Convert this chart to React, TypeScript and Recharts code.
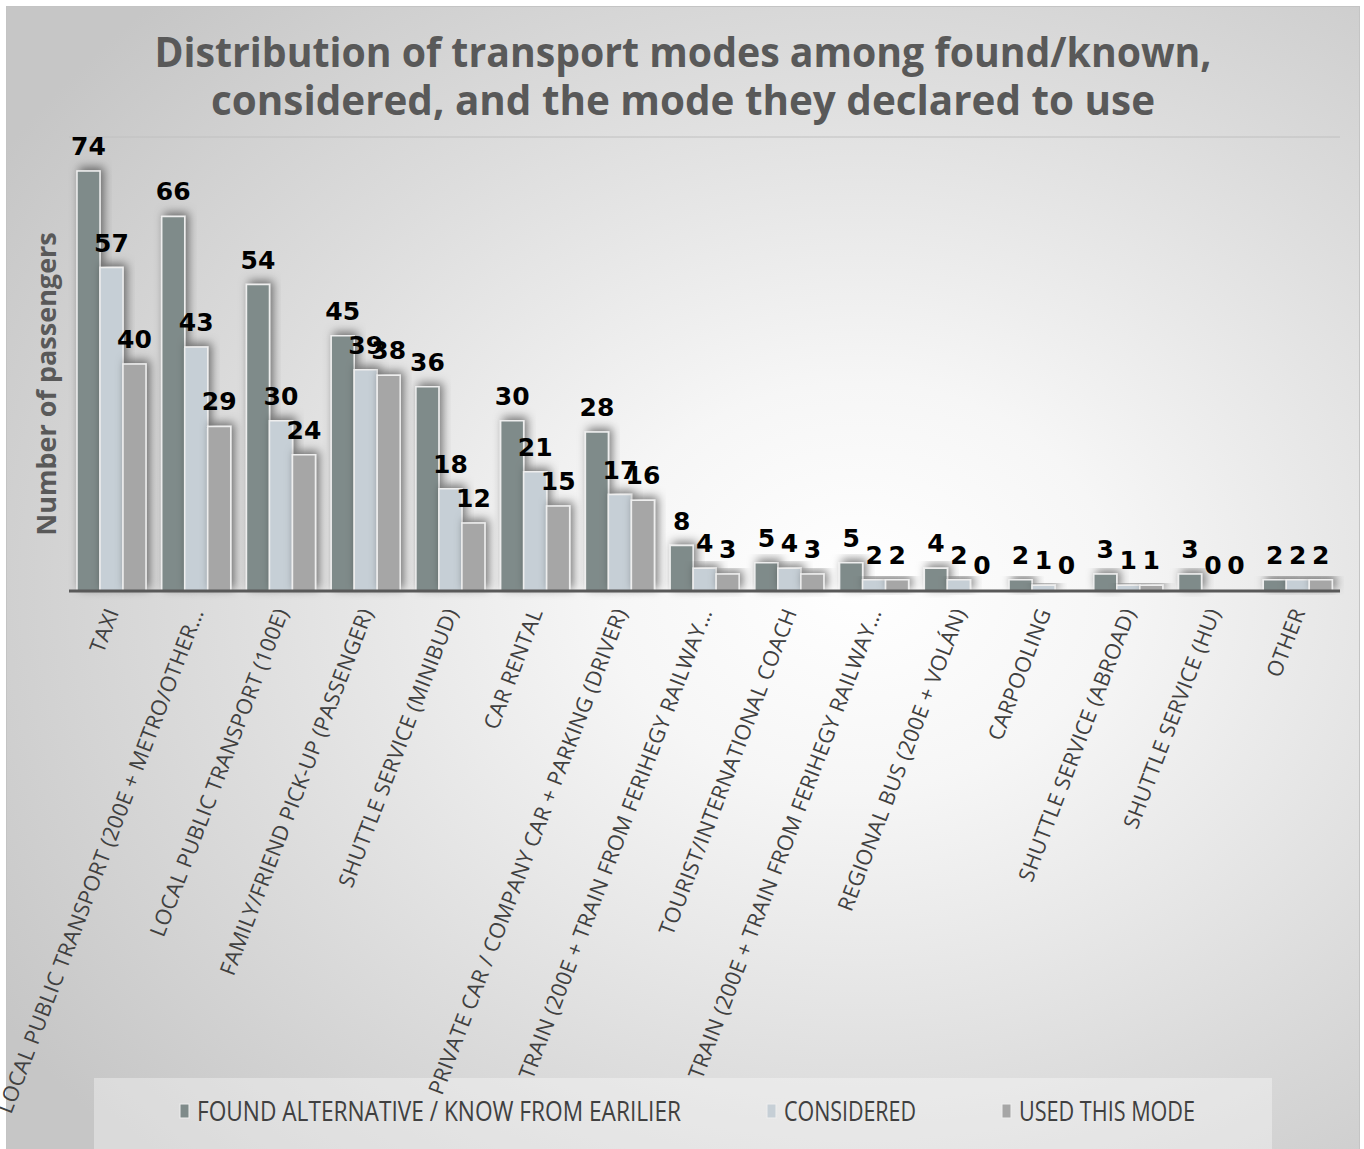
import React from "react";
import {
  BarChart,
  Bar,
  XAxis,
  YAxis,
  CartesianGrid,
  LabelList,
  Rectangle,
} from "recharts";

const modes = [
  "TAXI",
  "LOCAL PUBLIC TRANSPORT (200E + METRO/OTHER…",
  "LOCAL PUBLIC TRANSPORT (100E)",
  "FAMILY/FRIEND PICK-UP (PASSENGER)",
  "SHUTTLE SERVICE (MINIBUD)",
  "CAR RENTAL",
  "PRIVATE CAR / COMPANY CAR + PARKING (DRIVER)",
  "TRAIN (200E + TRAIN FROM FERIHEGY RAILWAY…",
  "TOURIST/INTERNATIONAL COACH",
  "TRAIN (200E + TRAIN FROM FERIHEGY RAILWAY…",
  "REGIONAL BUS (200E + VOLÁN)",
  "CARPOOLING",
  "SHUTTLE SERVICE (ABROAD)",
  "SHUTTLE SERVICE (HU)",
  "OTHER",
];

const foundAlternative = [74, 66, 54, 45, 36, 30, 28, 8, 5, 5, 4, 2, 3, 3, 2];
const considered = [57, 43, 30, 39, 18, 21, 17, 4, 4, 2, 2, 1, 1, 0, 2];
const usedThisMode = [40, 29, 24, 38, 12, 15, 16, 3, 3, 2, 0, 0, 1, 0, 2];

const yTicks = [0, 10, 20, 30, 40, 50, 60, 70, 80];

const series = [
  { key: "found", name: "FOUND ALTERNATIVE / KNOW FROM EARILIER", color: "#7f8b8a" },
  { key: "considered", name: "CONSIDERED", color: "#c6cfd6" },
  { key: "used", name: "USED THIS MODE", color: "#a6a6a6" },
];

const data = modes.map((mode, i) => ({
  mode,
  found: foundAlternative[i],
  considered: considered[i],
  used: usedThisMode[i],
}));

const W = 1364;
const H = 1149;

const ModeTick = (props: any) => {
  const { x, y, payload } = props;
  return (
    <text
      transform={`translate(${x + 8},${y + 13}) rotate(-69)`}
      textAnchor="end"
      fontFamily="'Open Sans', sans-serif"
      fontSize={21.5}
      letterSpacing={0.35}
      fill="#404040"
    >
      {payload.value}
    </text>
  );
};

// zero values keep a label but draw no visible bar
const makeShape = (key: string) => (props: any) =>
  props.payload && props.payload[key] === 0 ? <g /> : <Rectangle {...props} />;

const legendPos = [180, 767, 1002];
const legendWidths = [484, 132, 176];

export default function App() {
  return (
    <div style={{ position: "relative", width: W, height: H, overflow: "hidden", background: "#fff" }}>
      <style>{"body{margin:0}"}</style>
      <div
        style={{
          position: "absolute",
          left: 6,
          top: 6,
          width: 1354,
          height: 1160,
          border: "1px solid #c4c4c4",
          boxSizing: "border-box",
          background:
            "radial-gradient(ellipse 75% 70% at 63% 50%, #ffffff 0%, #f6f6f6 25%, #dcdcdc 65%, #c6c6c6 100%)",
        }}
      />
      <div
        style={{
          position: "absolute",
          left: 94,
          top: 1078,
          width: 1178,
          height: 90,
          background: "rgba(255,255,255,0.35)",
        }}
      />
      <svg style={{ position: "absolute", left: 0, top: 0 }} width={W} height={140}>
        <g fontFamily="'Open Sans', sans-serif" fontWeight={700} fontSize={41} fill="#595959" textAnchor="middle">
          <text x={683} y={67} textLength={1057} lengthAdjust="spacingAndGlyphs">
            Distribution of transport modes among found/known,
          </text>
          <text x={683} y={115} textLength={944} lengthAdjust="spacingAndGlyphs">
            considered, and the mode they declared to use
          </text>
        </g>
      </svg>
      <div
        style={{
          position: "absolute",
          left: 45,
          top: 384,
          transform: "translate(-50%,-50%) rotate(-90deg)",
          whiteSpace: "nowrap",
          fontFamily: "'Open Sans', sans-serif",
          fontWeight: 700,
          fontSize: 27,
          color: "#595959",
        }}
      >
        Number of passengers
      </div>
      <div style={{ position: "absolute", left: 0, top: 0 }}>
        <BarChart
          width={W}
          height={H}
          data={data}
          margin={{ top: 137, right: 24, bottom: 78, left: 69 }}
          barCategoryGap={8}
          barGap={0}
        >
          <defs>
            <filter id="barShadow" x="-50%" y="-30%" width="200%" height="160%">
              <feDropShadow dx={3} dy={-3} stdDeviation={5} floodColor="#000" floodOpacity={0.5} />
            </filter>
          </defs>
          <CartesianGrid vertical={false} stroke="#c0c0c0" strokeWidth={1} />
          <YAxis
            width={0}
            domain={[0, 80]}
            ticks={yTicks}
            tick={false}
            axisLine={false}
            tickLine={false}
          />
          <XAxis
            dataKey="mode"
            height={480}
            interval={0}
            tickLine={false}
            axisLine={{ stroke: "#595959", strokeWidth: 3 }}
            tick={<ModeTick />}
          />
          {series.map((s) => (
            <Bar
              key={s.key}
              dataKey={s.key}
              name={s.name}
              fill={s.color}
              stroke="#eeeeee"
              strokeWidth={1.5}
              filter="url(#barShadow)"
              minPointSize={1}
              shape={makeShape(s.key)}
              isAnimationActive={false}
            >
              <LabelList
                dataKey={s.key}
                position="top"
                offset={16}
                fill="#000"
                fontFamily="'DejaVu Sans', sans-serif"
                fontWeight={700}
                fontSize={25}
              />
            </Bar>
          ))}
        </BarChart>
      </div>
      <svg style={{ position: "absolute", left: 0, top: 1088 }} width={W} height={52}>
        {series.map((s, i) => (
          <g key={s.key}>
            <rect x={legendPos[i]} y={16} width={9} height={14} fill={s.color} stroke="#eee" strokeWidth={1} />
            <text
              x={legendPos[i] + 17}
              y={33}
              fontFamily="'Open Sans', sans-serif"
              fontSize={28}
              fill="#404040"
              textLength={legendWidths[i]}
              lengthAdjust="spacingAndGlyphs"
            >
              {s.name}
            </text>
          </g>
        ))}
      </svg>
    </div>
  );
}
